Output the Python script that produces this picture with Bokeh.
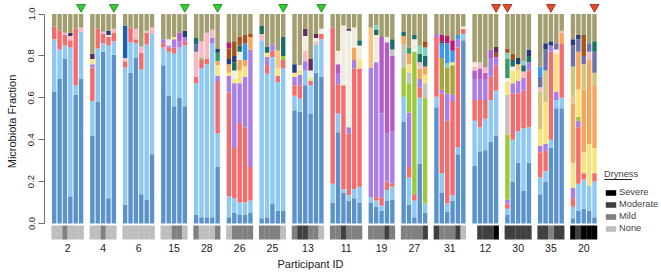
from bokeh.plotting import figure
from bokeh.models import (ColumnDataSource, FixedTicker, PrintfTickFormatter,
                          Legend, LegendItem, Title, BoxAnnotation)
from bokeh.embed import file_html
from bokeh.resources import INLINE

# ---------------- data ----------------
PARTICIPANTS = [2, 4, 6, 15, 28, 26, 25, 13, 11, 19, 27, 31, 12, 30, 35, 20]

# stacking order (bottom -> top) and colours of the taxa
TAXA = [
    ("db", "#5a93cb"), ("lb", "#8dc9f3"), ("red", "#f46c6c"), ("lav", "#a97ee8"),
    ("mag", "#b25bc9"), ("lime", "#9dc83e"), ("olg", "#a6a33e"), ("gray", "#c3c3bd"),
    ("yel", "#f8e27a"), ("ora", "#f6a65a"), ("pea", "#f9c27e"), ("kha", "#cfc57e"),
    ("pink", "#f8b8c4"), ("cream", "#f1ece0"), ("slate", "#6b73a8"), ("grn", "#3f9a62"),
    ("teal", "#1b6f66"), ("mint", "#7fd1b9"), ("navy", "#233f7a"), ("blue", "#1d5fb8"),
    ("brt", "#3a98ee"), ("brown", "#a5531c"), ("dpur", "#5e2f5e"), ("crim", "#bd1a6e"),
    ("oth", "#a29e70"),
]

P02 = dict(db=[.63, .69, .785, .13, .615, .69], lb=[.25, .14, .065, .71, .045, .225],
           red=[.06, .09, .05, .035, .27, 0], pink=[0, 0, .01, .02, 0, .02],
           navy=[0, 0, 0, .015, 0, 0], oth=[.06, .08, .09, .09, .07, .065])
P04 = dict(db=[.42, .58, .82, .12, .805], lb=[.165, .255, .04, .73, .065],
           red=[.16, .095, .045, .04, .04], lav=[.015, 0, 0, 0, 0], yel=[.025, 0, 0, 0, 0],
           pink=[0, 0, .01, 0, .02], cream=[0, 0, 0, .01, 0], navy=[0, 0, 0, .02, 0],
           dpur=[.025, 0, 0, 0, 0], oth=[.19, .07, .085, .08, .07])
P06 = dict(db=[.09, .72, .79, .14, .115, .33], lb=[.655, .145, .07, .595, .74, .575],
           red=[.03, .07, .02, .08, .055, 0], pink=[.015, 0, .05, .03, .01, .03],
           blue=[.155, 0, 0, 0, 0, 0], oth=[.055, .065, .07, .155, .08, .065])
P15 = dict(db=[.755, .61, .56, .60, .56], lb=[.085, .21, .25, .24, .29],
           red=[.02, .02, .03, 0, .02], lav=[.02, .01, .04, .03, .02], mag=[0, 0, 0, .04, 0],
           yel=[0, 0, .01, 0, 0], cream=[0, .03, 0, 0, 0], navy=[0, 0, 0, 0, .03],
           oth=[.12, .12, .11, .09, .08])
P28 = dict(db=[.04, .03, .03, .03, .27], lb=[.63, .71, .73, .83, .16],
           red=[.03, .04, .025, 0, .25], lav=[0, 0, 0, .025, .025], lime=[0, .01, 0, 0, 0],
           yel=[0, 0, 0, 0, .05], ora=[0, 0, 0, 0, .02], pink=[.12, .08, .125, .04, 0],
           slate=[.035, 0, 0, 0, 0], grn=[0, 0, 0, 0, .04], teal=[.03, 0, 0, 0, 0],
           navy=[0, 0, 0, 0, .02], oth=[.115, .13, .09, .075, .165])
P26 = dict(db=[.03, .05, .04, .04, .05], lb=[.10, .07, .06, .06, .06],
           red=[.495, .24, .38, .36, .16], lav=[.08, .31, .19, .24, .56],
           yel=[.015, .02, .06, .05, 0], ora=[.04, 0, .05, .03, .06], cream=[0, .04, .04, 0, 0],
           teal=[0, .04, .03, 0, 0], navy=[.025, .03, 0, 0, 0], brt=[0, 0, 0, .08, 0],
           brown=[.05, .07, .04, .04, .015], crim=[.03, 0, 0, 0, 0],
           oth=[.135, .13, .11, .10, .095])
P25 = dict(db=[.025, .03, .095, .06, .06], lb=[.85, .685, .70, .615, .68],
           red=[0, .04, .03, .03, .04], lav=[0, .04, .03, 0, 0], lime=[0, 0, 0, 0, .02],
           yel=[0, .02, 0, .035, 0], pea=[0, 0, 0, .085, 0], pink=[.03, 0, 0, 0, 0],
           teal=[.04, .03, 0, 0, .09], oth=[.055, .155, .145, .175, .11])
P13 = dict(db=[.54, .535, .66, .525, .72, .70], lb=[.07, .06, .07, .135, .135, .18],
           red=[.05, .065, 0, .02, 0, .025], lav=[.04, .05, .045, 0, 0, 0],
           yel=[.02, .025, 0, .015, 0, 0], pink=[0, 0, .05, 0, .015, 0],
           cream=[0, .02, .07, .035, .015, .025], navy=[.04, 0, 0, 0, 0, 0],
           dpur=[0, 0, .035, .055, .02, 0], oth=[.24, .245, .07, .215, .095, .07])
P11 = dict(db=[.10, .435, .145, .11, .12, .10], lb=[.09, .09, .02, .025, .045, .075],
           red=[.745, .14, .495, .295, .575, .565], lav=[0, .05, 0, .03, .04, 0],
           mag=[0, .045, 0, 0, 0, 0], yel=[0, 0, 0, 0, 0, .045], ora=[0, 0, 0, 0, .06, 0],
           cream=[0, .065, .285, .46, .095, .065], teal=[0, 0, 0, 0, 0, .025],
           dpur=[0, 0, 0, .01, 0, 0], oth=[.065, .175, .055, .07, .065, .125])
P19 = dict(db=[.10, .08, .06, .11, .115], lb=[.025, .03, .025, .05, .06],
           red=[0, .015, .04, .04, .015], lav=[.62, .645, .40, .23, .25],
           mag=[0, 0, .365, .435, .36], gray=[0, 0, 0, 0, .03], pea=[.19, 0, 0, 0, 0],
           cream=[0, .13, 0, .025, 0], teal=[0, .025, 0, 0, .05], mint=[0, .02, 0, 0, 0],
           oth=[.065, .055, .11, .11, .12])
P27 = dict(db=[.485, .09, .03, .285, .05], lb=[.12, .13, .08, .315, .045],
           red=[0, .05, .03, .05, 0], lav=[0, .26, 0, .04, 0], lime=[.14, .14, .68, 0, .505],
           gray=[.11, .05, 0, 0, .07], yel=[0, .04, 0, 0, .04], ora=[.04, .05, 0, .05, .04],
           pink=[0, 0, 0, .03, 0], cream=[0, 0, .06, 0, 0], grn=[0, .03, 0, 0, 0],
           teal=[.02, 0, .02, .04, .05], mint=[0, 0, 0, .04, .04], brown=[0, 0, 0, 0, .03],
           oth=[.085, .16, .10, .15, .13])
P31 = dict(db=[.555, .145, .055, .11, .33, .875], lb=[.05, .095, .04, .025, .035, .03],
           red=[.285, .38, .395, .45, .475, .025], lav=[.015, .02, .13, .03, .04, 0],
           olg=[0, .15, .125, .14, 0, 0], yel=[0, 0, 0, .015, 0, 0], cream=[0, 0, 0, 0, 0, .01],
           mint=[0, 0, .02, 0, 0, 0], brt=[0, .07, .095, .055, .02, 0],
           dpur=[0, .01, 0, 0, 0, 0], crim=[0, .03, .035, .05, 0, 0],
           oth=[.095, .10, .105, .125, .10, .06])
P12 = dict(db=[.277, .345, .35, .39, .42], lb=[.213, .115, .15, .20, .215],
           red=[.10, .13, .09, .11, .12], lav=[.10, .10, .10, .09, .04],
           mag=[.04, .05, .03, .04, 0], pink=[.02, .03, .025, 0, 0], cream=[.02, 0, 0, 0, 0],
           brown=[0, 0, 0, 0, .02], dpur=[0, 0, 0, 0, .03], oth=[.23, .23, .255, .17, .155])
P30 = dict(db=[.04, .20, .29, .155, .29], lb=[.03, .20, .15, .30, .17],
           red=[.025, .22, .18, .18, .27], lav=[.02, .05, .06, .06, .04], lime=[.31, 0, 0, 0, 0],
           gray=[.19, 0, 0, 0, 0], yel=[.06, .06, .05, 0, 0], pea=[0, 0, .03, 0, 0],
           pink=[0, 0, 0, .03, 0], cream=[.02, .02, 0, 0, 0], grn=[.09, 0, 0, 0, 0],
           teal=[0, .03, 0, .03, .03], mint=[.03, 0, 0, .02, 0], navy=[0, 0, .03, 0, .03],
           brown=[.02, .03, 0, 0, 0], oth=[.165, .19, .21, .225, .17])
P35 = dict(db=[.14, .20, .36, .55, .55], lb=[.08, .05, .04, .04, .05],
           red=[.12, .10, .42, 0, .26], lav=[.03, .03, .03, .04, 0], yel=[.08, .20, 0, .18, 0],
           ora=[0, 0, 0, 0, .05], kha=[.18, .15, 0, 0, 0], pink=[.02, 0, 0, 0, .01],
           cream=[0, 0, 0, .02, 0], slate=[.05, .10, 0, .03, 0], navy=[0, .03, .02, 0, 0],
           brt=[.05, 0, 0, 0, 0], oth=[.25, .14, .13, .14, .08])
P20 = dict(db=[.025, .06, .07, .06, .03], lb=[.055, .13, .14, .12, .17],
           red=[.04, .27, .03, 0, .04], lav=[.05, .03, 0, 0, 0], lime=[0, .02, 0, 0, 0],
           yel=[.12, .13, .10, .20, .12], ora=[.28, .18, .30, .40, .30], pea=[.04, 0, 0, 0, 0],
           kha=[.14, 0, .12, 0, .06], pink=[0, 0, 0, .04, 0], slate=[.10, .06, .04, .04, .10],
           teal=[0, 0, 0, 0, .05], navy=[.03, .02, 0, 0, 0], brown=[0, 0, .10, 0, 0],
           oth=[.12, .10, .10, .14, .13])

GROUPS = [P02, P04, P06, P15, P28, P26, P25, P13, P11, P19, P27, P31, P12, P30, P35, P20]

# dryness per sample: 0 None, 1 Mild, 2 Moderate, 3 Severe, -1 missing
DRYNESS = [
    [0, 0, 1, 0, 0, 0], [0, 0, 1, 0, 0], [0, 0, 0, 0, 0, 0], [0, 0, 1, 1, 0],
    [1, 0, 0, 0, 1], [0, 1, 1, 1, 1], [1, 1, 1, 1, 0], [1, 2, 2, 1, 1, 0],
    [1, 1, 2, 1, 1, 1], [1, 1, 1, 2, 1], [1, 1, 1, 1, 2], [2, 1, 1, 1, 2, 0],
    [-1, 2, 2, 2, 3], [2, 2, 2, 2, 2], [2, 2, 1, 2, 2], [3, 2, 3, 3, 3],
]
DRY_LEVELS = [3, 2, 1, 0]
DRY_NAMES = ["Severe", "Moderate", "Mild", "None"]
DRY_COLORS = ["#000000", "#404040", "#808080", "#bebebe"]

# marked samples (participant, sample index) and marker kind
FLAG_PID = [2, 4, 15, 28, 25, 13, 12, 30, 35, 20]
FLAG_BAR = [5, 4, 4, 4, 4, 5, 4, 0, 2, 4]
FLAG_KIND = ["green"] * 6 + ["red"] * 4

# ---------------- layout ----------------
GAP = 1.1
bar_x = {}
centers = []
off = 0.0
for pid, g in zip(PARTICIPANTS, GROUPS):
    n = len(g["db"])
    bar_x[pid] = [off + k + 0.5 for k in range(n)]
    centers.append(round(off + n / 2.0, 3))
    off += n + GAP

seg = dict(x=[], bottom=[], top=[], color=[])
for pid, g in zip(PARTICIPANTS, GROUPS):
    n = len(g["db"])
    for k, x in enumerate(bar_x[pid]):
        cum = 0.0
        for key, col in TAXA:
            v = g.get(key, [0] * n)[k]
            if v > 0:
                seg["x"].append(x)
                seg["bottom"].append(cum)
                seg["top"].append(cum + v)
                seg["color"].append(col)
                cum += v

W, H = 661, 276
LEFT, BOTTOM = 44, 34
PX_PER_UNIT = 5.376
x0 = -7.0 / PX_PER_UNIT
x1 = x0 + (W - LEFT) / PX_PER_UNIT
PX_PER_Y = 209.5
y1 = 1 + 13.5 / PX_PER_Y
y0 = -(H - BOTTOM - 223) / PX_PER_Y

FONT = "Liberation Sans"

p = figure(width=W, height=H, x_range=(x0, x1), y_range=(y0, y1),
           output_backend="svg", toolbar_location=None,
           min_border=0, min_border_left=LEFT, min_border_bottom=BOTTOM)
p.outline_line_color = None
p.grid.visible = False

p.vbar(x="x", bottom="bottom", top="top", width=0.82, fill_color="color",
       line_color=None, source=ColumnDataSource(seg))

# dryness strip
legend_items = []
for lvl, name, col in zip(DRY_LEVELS, DRY_NAMES, DRY_COLORS):
    xs = []
    for pid, d in zip(PARTICIPANTS, DRYNESS):
        xs += [x for x, v in zip(bar_x[pid], d) if v == lvl]
    r = p.vbar(x=xs, bottom=-0.076, top=-0.0095, width=1.03, fill_color=col,
               line_color=None)
    legend_items.append(LegendItem(label=name, renderers=[r]))

# markers
for kind, fill, edge in [("green", "#2fcf2f", "#1b7a1b"), ("red", "#e8492d", "#8e2312")]:
    fx = [bar_x[pid][b] for pid, b, k in zip(FLAG_PID, FLAG_BAR, FLAG_KIND) if k == kind]
    p.scatter(x=fx, y=[1.033] * len(fx), marker="inverted_triangle", size=9,
              fill_color=fill, line_color=edge, line_width=0.8)

# axes
ya = p.yaxis[0]
ya.bounds = (0, 1)
ya.ticker = FixedTicker(ticks=[0, 0.2, 0.4, 0.6, 0.8, 1.0])
ya.formatter = PrintfTickFormatter(format="%.1f")
ya.major_label_orientation = "vertical"
ya.major_tick_out = 6
ya.major_tick_in = 0
ya.minor_tick_line_color = None
ya.axis_line_color = "#6e6e6e"
ya.major_tick_line_color = "#6e6e6e"
ya.major_label_standoff = 4
ya.major_label_text_font = FONT
ya.major_label_text_font_size = "9.5px"
ya.major_label_text_color = "#222222"
ya.axis_label = "Microbiota Fraction"
ya.axis_label_standoff = 8
ya.axis_label_text_font = FONT
ya.axis_label_text_font_size = "11px"
ya.axis_label_text_font_style = "normal"
ya.axis_label_text_color = "#222222"

xa = p.xaxis[0]
xa.ticker = FixedTicker(ticks=centers)
xa.major_label_overrides = {c: str(pid) for c, pid in zip(centers, PARTICIPANTS)}
xa.axis_line_color = None
xa.major_tick_line_color = None
xa.minor_tick_line_color = None
xa.major_tick_out = 0
xa.major_tick_in = 0
xa.major_label_standoff = 1
xa.major_label_text_font = FONT
xa.major_label_text_font_size = "10.5px"
xa.major_label_text_color = "#222222"

p.add_layout(Title(text="Participant ID", align="left", offset=233, standoff=2,
                   text_font=FONT, text_font_size="11px", text_font_style="normal",
                   text_color="#222222"), "below")

legend = Legend(items=legend_items, location=(560, 8), title="Dryness",
                title_text_font=FONT, title_text_font_size="9.3px",
                title_text_font_style="normal", title_standoff=7,
                label_text_font=FONT, label_text_font_size="9.3px",
                label_height=12, label_standoff=2, glyph_width=13, glyph_height=7,
                spacing=0, padding=0, margin=0, border_line_color=None,
                background_fill_alpha=0)
p.add_layout(legend)

# underline under the legend title (page pixels converted to the frame's scales)
def px_to_x(px):
    return (px - 51) / PX_PER_UNIT

def px_to_y(py):
    return (223 - py) / PX_PER_Y

p.add_layout(BoxAnnotation(left=px_to_x(604), right=px_to_x(631.5),
                           bottom=px_to_y(179.5), top=px_to_y(178.6),
                           fill_color="#222222", fill_alpha=1, line_color=None))

open("out.html", "w").write(file_html(p, INLINE))
